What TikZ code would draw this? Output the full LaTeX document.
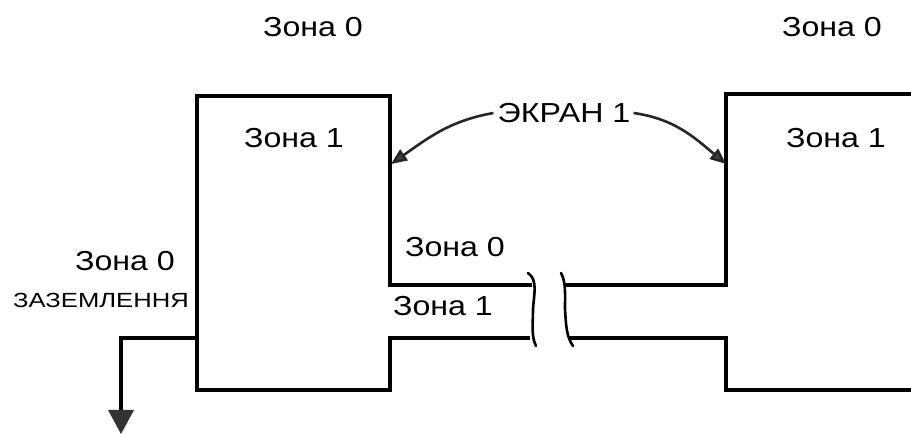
\documentclass[tikz,border=0pt]{standalone}
\usepackage{fontspec}
\setmainfont{Liberation Sans}
\newfontfamily\widefont[FakeStretch=1.17]{Liberation Sans}
\newfontfamily\widerfont[FakeStretch=1.25]{Liberation Sans}
\usetikzlibrary{arrows.meta}
\begin{document}
\begin{tikzpicture}[x=1pt,y=1pt,
  wall/.style={line width=3.6pt,line cap=rect,line join=miter},
  lbl/.style={inner sep=0pt,font=\widefont\fontsize{27.5}{31}\selectfont,text=black},
  small/.style={inner sep=0pt,font=\widerfont\fontsize{20.5}{24}\selectfont,text=black},
  brk/.style={line width=2.6pt,line cap=round},
  ptr/.style={line width=2.6pt,draw=black!85,-{Triangle[width=13pt,length=16pt,fill=black!75]}}]
\useasboundingbox (0,0) rectangle (911,434);
% left box
\draw[wall] (390,149) -- (390,338) -- (197,338) -- (197,44) -- (390,44) -- (390,96);
\draw[wall] (390,149) -- (530,149);
\draw[wall] (390,96) -- (528,96);
% right box
\draw[wall] (911,340) -- (726,340) -- (726,149) -- (566,149);
\draw[wall] (571,96) -- (726,96) -- (726,44) -- (911,44);
% break marks
\draw[brk] (528,161) .. controls (538,154) and (534,140) .. (533,125) .. controls (533,110) and (531,98) .. (536,88);
\draw[brk] (561,161) .. controls (566,152) and (565,140) .. (565,125) .. controls (566,110) and (566,98) .. (573,88);
% ground
\coordinate (gstart) at (197,96);
\coordinate (gcorner) at (121,96);
\coordinate (gend) at (121,0);
\draw[line width=3.6pt] (gstart) -- (gcorner) -- ([yshift=24pt]gend);
\fill[black!80] (108,24) -- (134,24) -- (121,0) -- cycle;
% labels
\node[lbl] (z0a) at (313,407) {Зона 0};
\node[lbl] (z0b) at (832,407) {Зона 0};
\node[lbl] (z1a) at (294,296) {Зона 1};
\node[lbl] (z1b) at (836,296) {Зона 1};
\node[lbl] (ekran) at (564,321) {ЭКРАН 1};
\node[lbl] (z0c) at (455,187) {Зона 0};
\node[lbl] (z1c) at (443,128) {Зона 1};
\node[lbl] (z0d) at (125,173) {Зона 0};
\node[small] (zaz) at (101,134) {ЗАЗЕМЛЕННЯ};
% pointers
\coordinate (lt) at (391,270);
\coordinate (rt) at (726,270);
\draw[ptr] ([xshift=-4pt]ekran.west) to[out=190,in=35] (lt);
\draw[ptr] ([xshift=3pt]ekran.east) to[out=-8,in=140] (rt);
\end{tikzpicture}
\end{document}
